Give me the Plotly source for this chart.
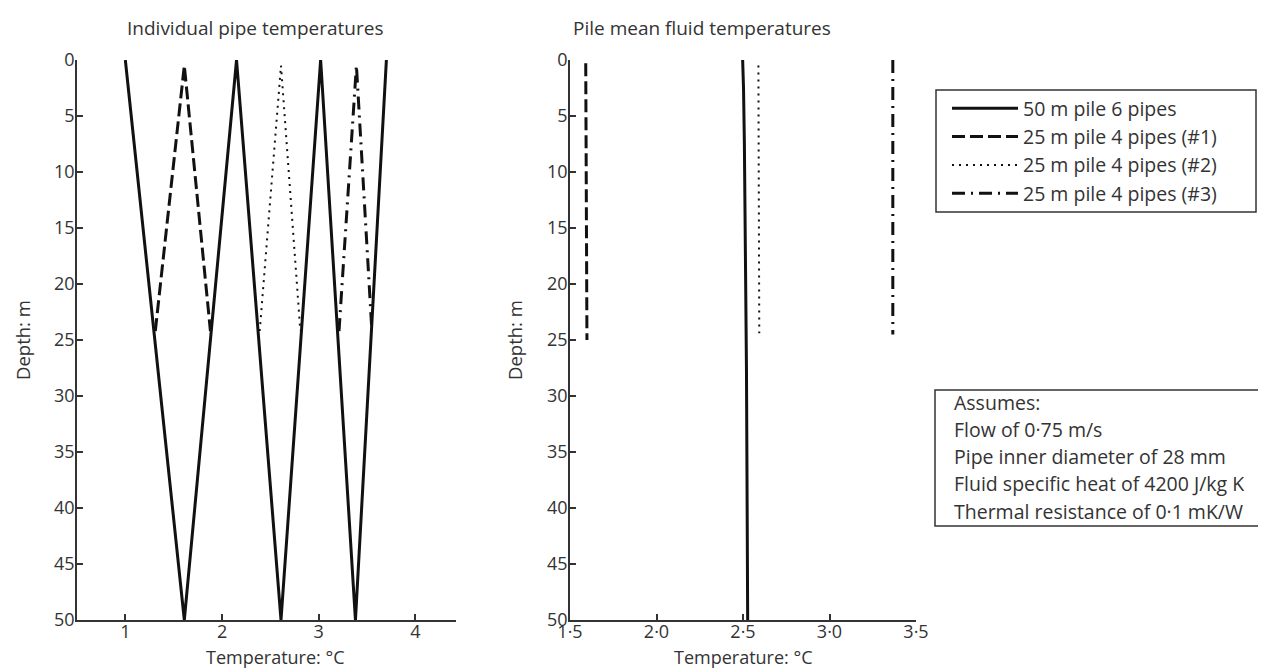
import plotly.graph_objects as go

# Individual pipe temperatures (left panel)
depth_50m = [0, 50, 0, 50, 0, 50, 0]
temp_50m = [1.0, 1.61, 2.15, 2.61, 3.02, 3.38, 3.70]
depth_25m = [24.2, 0.5, 24.2]
temp_25m_1 = [1.31, 1.61, 1.88]
temp_25m_2 = [2.39, 2.61, 2.81]
temp_25m_3 = [3.21, 3.39, 3.55]

# Pile mean fluid temperatures (right panel)
mean_depth_50m = [0, 2.5, 7.5, 12.5, 20, 27.5, 40, 50]
mean_temp_50m = [2.498, 2.503, 2.508, 2.512, 2.516, 2.52, 2.524, 2.527]
mean_depth_1 = [0.3, 25.0]
mean_temp_1 = [1.591, 1.598]
mean_depth_2 = [0.5, 24.4]
mean_temp_2 = [2.589, 2.594]
mean_depth_3 = [0.0, 24.5]
mean_temp_3 = [3.366, 3.366]

names = ["50 m pile 6 pipes", "25 m pile 4 pipes (#1)",
         "25 m pile 4 pipes (#2)", "25 m pile 4 pipes (#3)"]
styles = [("solid", 3), ("13px,5px", 3), ("2px,5px", 2), ("13px,6px,2px,6px", 3)]

assumptions = ["Assumes:", "Flow of 0·75 m/s", "Pipe inner diameter of 28 mm",
               "Fluid specific heat of 4200 J/kg K", "Thermal resistance of 0·1 mK/W"]

W, H = 1266, 669
font = "Open Sans"
ink = "#111111"
grey = "#333333"
fs = 19

fig = go.Figure()

left = [(temp_50m, depth_50m), (temp_25m_1, depth_25m),
        (temp_25m_2, depth_25m), (temp_25m_3, depth_25m)]
right = [(mean_temp_50m, mean_depth_50m), (mean_temp_1, mean_depth_1),
         (mean_temp_2, mean_depth_2), (mean_temp_3, mean_depth_3)]

for (x, y), name, (dash, w) in zip(left, names, styles):
    fig.add_trace(go.Scatter(x=x, y=y, mode="lines", name=name, showlegend=False,
                             line=dict(color=ink, width=w, dash=dash),
                             xaxis="x", yaxis="y"))
for (x, y), name, (dash, w) in zip(right, names, styles):
    fig.add_trace(go.Scatter(x=x, y=y, mode="lines", name=name,
                             line=dict(color=ink, width=w, dash=dash),
                             xaxis="x2", yaxis="y2"))

ydom = [1 - 612 / H, 1 - 52 / H]
axis_common = dict(showline=True, linecolor=grey, linewidth=1.5, ticks="inside",
                   ticklen=6, tickwidth=1.5, tickcolor=grey, showgrid=False,
                   zeroline=False, mirror=False, automargin=False,
                   tickfont=dict(family=font, size=18, color=grey))

fig.update_layout(
    width=W, height=H,
    margin=dict(l=0, r=0, t=0, b=0),
    paper_bgcolor="white", plot_bgcolor="white",
    font=dict(family=font, size=fs, color=grey),
    xaxis=dict(domain=[69 / W, 448 / W], range=[0.5, 4.42], anchor="y",
               tickvals=[1, 2, 3, 4, 4.42], ticktext=["1", "2", "3", "4", ""],
               ticklabelstandoff=-5, **axis_common),
    yaxis=dict(domain=ydom, range=[50, 0], anchor="x",
               tickvals=list(range(0, 51, 5)), ticklabelstandoff=-3, **axis_common),
    xaxis2=dict(domain=[562 / W, 908 / W], range=[1.5, 3.5], anchor="y2",
                tickvals=[1.5, 2.0, 2.5, 3.0, 3.5],
                ticktext=["1·5", "2·0", "2·5", "3·0", "3·5"],
                ticklabelstandoff=-5, **axis_common),
    yaxis2=dict(domain=ydom, range=[50, 0], anchor="x2",
                tickvals=list(range(0, 51, 5)), ticklabelstandoff=-3, **axis_common),
    legend=dict(x=939 / W, y=1 - 81 / H, xanchor="left", yanchor="top",
                borderwidth=0, bgcolor="rgba(0,0,0,0)",
                font=dict(family=font, size=19.5, color=grey),
                itemwidth=66, tracegroupgap=0),
    showlegend=True,
)

def label(text, x, y, angle=0, size=fs):
    fig.add_annotation(text=text, xref="paper", yref="paper", x=x / W, y=1 - y / H,
                       xanchor="center", yanchor="middle", textangle=angle,
                       showarrow=False, font=dict(family=font, size=size, color=grey))

label("Individual pipe temperatures", 247, 20)
label("Pile mean fluid temperatures", 694, 20)
label("Temperature: °C", 267, 649, size=18)
label("Temperature: °C", 735, 649, size=18)
label("Depth: m", 14, 332, angle=-90, size=18.5)
label("Depth: m", 506, 332, angle=-90, size=18.5)

# Legend frame
fig.add_shape(type="rect", xref="paper", yref="paper",
              x0=928 / W, x1=1248 / W, y0=1 - 204 / H, y1=1 - 82 / H,
              line=dict(color=grey, width=1.5))

# Assumptions box
fig.add_shape(type="rect", xref="paper", yref="paper",
              x0=927 / W, x1=1265 / W, y0=1 - 518 / H, y1=1 - 382 / H,
              line=dict(color=grey, width=1.5))
for i, line in enumerate(assumptions):
    fig.add_annotation(text=line, xref="paper", yref="paper",
                       x=944 / W, y=1 - (394 + 27.3 * i) / H,
                       xanchor="left", yanchor="middle", align="left", showarrow=False,
                       font=dict(family=font, size=19.5, color=grey))

fig.write_html("out.html")
